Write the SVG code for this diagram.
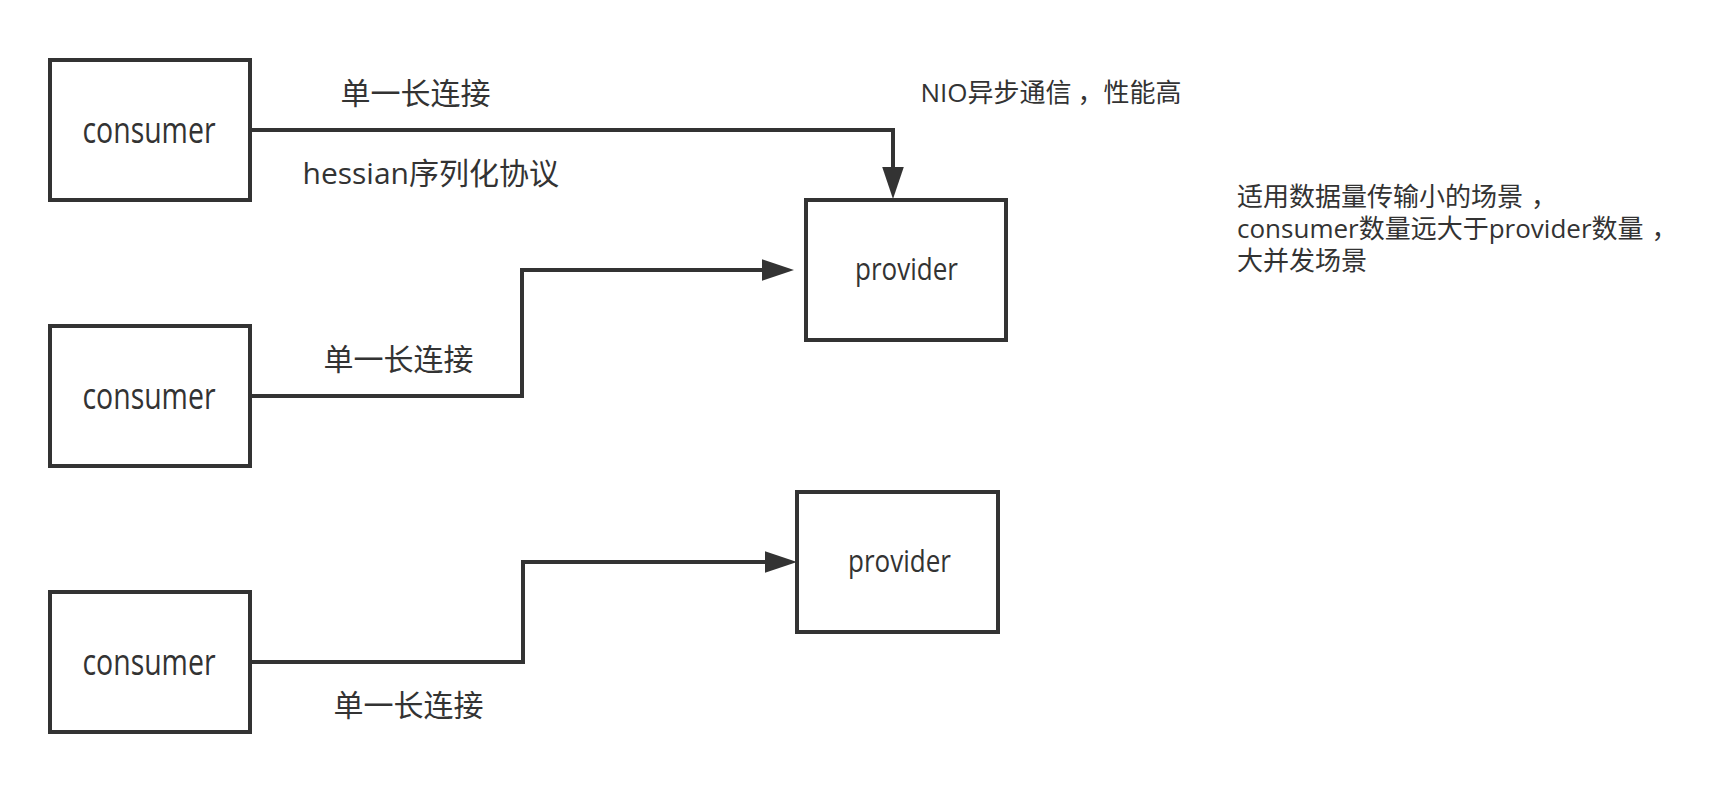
<svg xmlns="http://www.w3.org/2000/svg" width="1732" height="794" viewBox="0 0 1732 794">
<style>
.box{fill:#ffffff;stroke:#333333;stroke-width:4}
.edge{fill:none;stroke:#333333;stroke-width:4}
text{font-family:"Open Sans","Noto Sans CJK SC",sans-serif;fill:#333333}
.lbl{font-size:30px}
.note{font-size:26px}
.c{font-size:37px}
.p{font-size:31px}
</style>
<defs>
<marker id="arr" markerUnits="userSpaceOnUse" markerWidth="33" markerHeight="22" refX="4" refY="10.8" orient="auto" viewBox="0 0 33 22">
<path d="M0,0 L32,10.8 L0,21.6 z" fill="#333333"/>
</marker>
</defs>
<rect width="1732" height="794" fill="#ffffff"/>
<g id="connectors">
<path class="edge" d="M250,130 H893 V171" marker-end="url(#arr)"/>
<path class="edge" d="M250,396 H522 V270 H766" marker-end="url(#arr)"/>
<path class="edge" d="M250,662 H523 V562 H769" marker-end="url(#arr)"/>
</g>
<g id="consumer1">
<rect class="box" x="50" y="60" width="200" height="140"/>
<text class="c" x="149" y="142.5" text-anchor="middle" textLength="133" lengthAdjust="spacingAndGlyphs">consumer</text>
</g>
<g id="consumer2">
<rect class="box" x="50" y="326" width="200" height="140"/>
<text class="c" x="149" y="408.5" text-anchor="middle" textLength="133" lengthAdjust="spacingAndGlyphs">consumer</text>
</g>
<g id="consumer3">
<rect class="box" x="50" y="592" width="200" height="140"/>
<text class="c" x="149" y="674.5" text-anchor="middle" textLength="133" lengthAdjust="spacingAndGlyphs">consumer</text>
</g>
<g id="provider1">
<rect class="box" x="806" y="200" width="200" height="140"/>
<text class="p" x="906.5" y="280" text-anchor="middle" textLength="103" lengthAdjust="spacingAndGlyphs">provider</text>
</g>
<g id="provider2">
<rect class="box" x="797" y="492" width="201" height="140"/>
<text class="p" x="899.5" y="572" text-anchor="middle" textLength="103" lengthAdjust="spacingAndGlyphs">provider</text>
</g>
<g id="labels">
<text class="lbl" x="340.5" y="104">单一长连接</text>
<text class="lbl" x="302.5" y="184">hessian序列化协议</text>
<text class="lbl" x="323.5" y="369.5">单一长连接</text>
<text class="lbl" x="333.5" y="716">单一长连接</text>
<text class="note" x="920.5" y="102">NIO异步通信<tspan dx="6">，</tspan>性能高</text>
<text class="note"><tspan x="1237" y="205.5">适用数据量传输小的场景</tspan><tspan dx="8">，</tspan><tspan x="1237" y="237.5">consumer数量远大于provider数量</tspan><tspan dx="8">，</tspan><tspan x="1237" y="269.5">大并发场景</tspan></text>
</g>
</svg>
